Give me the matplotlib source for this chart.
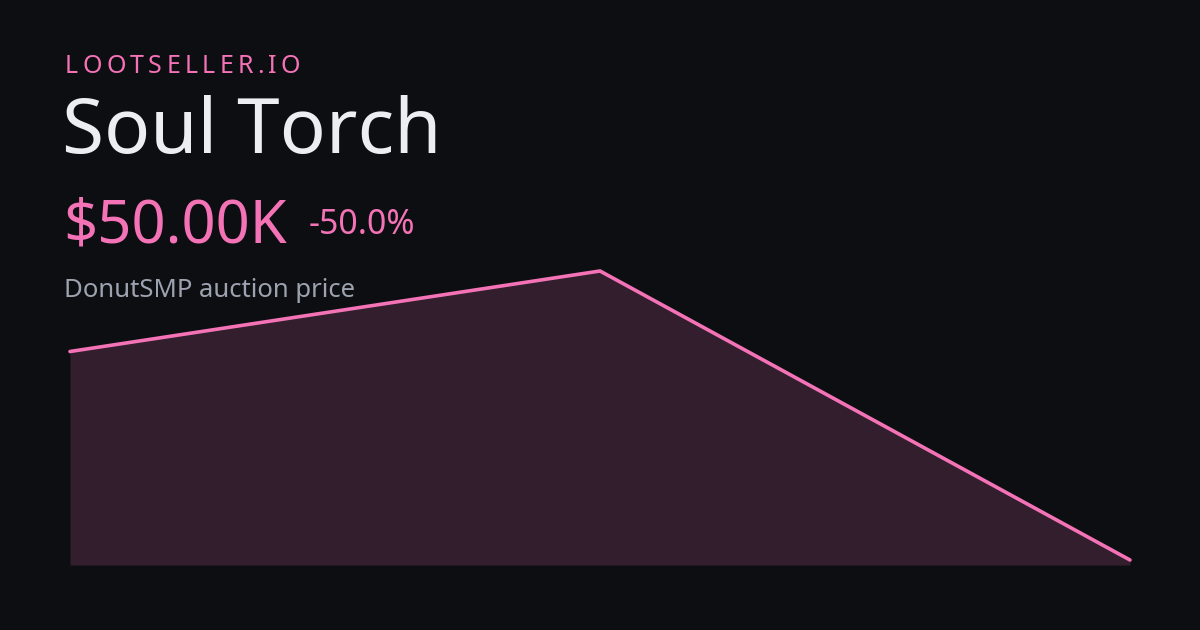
import matplotlib
matplotlib.use("Agg")
import matplotlib.pyplot as plt

# price history (three samples)
steps = [0, 1, 2]
prices = [100500, 120000, 50000]

brand = "LOOTSELLER.IO"
item_name = "Soul Torch"
price_label = "$50.00K"
change_label = "-50.0%"
caption = "DonutSMP auction price"

bg = '#0d0e12'
pink = '#f472b6'

W, H = 1200, 630
fig = plt.figure(figsize=(W / 100, H / 100), dpi=100, facecolor=bg)
plt.rcParams['font.family'] = ['Noto Sans', 'DejaVu Sans']


def fy(py):
    return 1 - py / H


def fx(px):
    return px / W


# chart area: x 70..1130 px, y 271..565 px
ax = fig.add_axes([fx(70), fy(565), fx(1060), (565 - 271) / H])
ax.set_facecolor('none')
lo = 50000 - 5 / (289 / 70000)
ax.set_ylim(lo, 120000)
ax.set_xlim(steps[0], steps[-1])
ax.fill_between(steps, prices, lo, color='#f472b6', alpha=0.16, linewidth=0)
ax.plot(steps, prices, color=pink, linewidth=2.6, solid_capstyle='round',
        solid_joinstyle='miter', clip_on=False)
ax.axis('off')

# brand with letter spacing
renderer = fig.canvas.get_renderer()
x = 65
for ch in brand:
    t = fig.text(fx(x), fy(73), ch, color=pink, fontsize=18, va='baseline')
    w = t.get_window_extent(renderer).width
    x += w + 4.3

fig.text(fx(62), fy(153), item_name, color='#eceef2', fontsize=55, va='baseline')
fig.text(fx(63), fy(243), price_label, color=pink, fontsize=43, va='baseline')
fig.text(fx(309), fy(234), change_label, color=pink, fontsize=24.4, va='baseline')
fig.text(fx(64), fy(297), caption, color='#9ca3af', fontsize=18.5, va='baseline')

fig.savefig('out.png', dpi=100, facecolor=bg)
